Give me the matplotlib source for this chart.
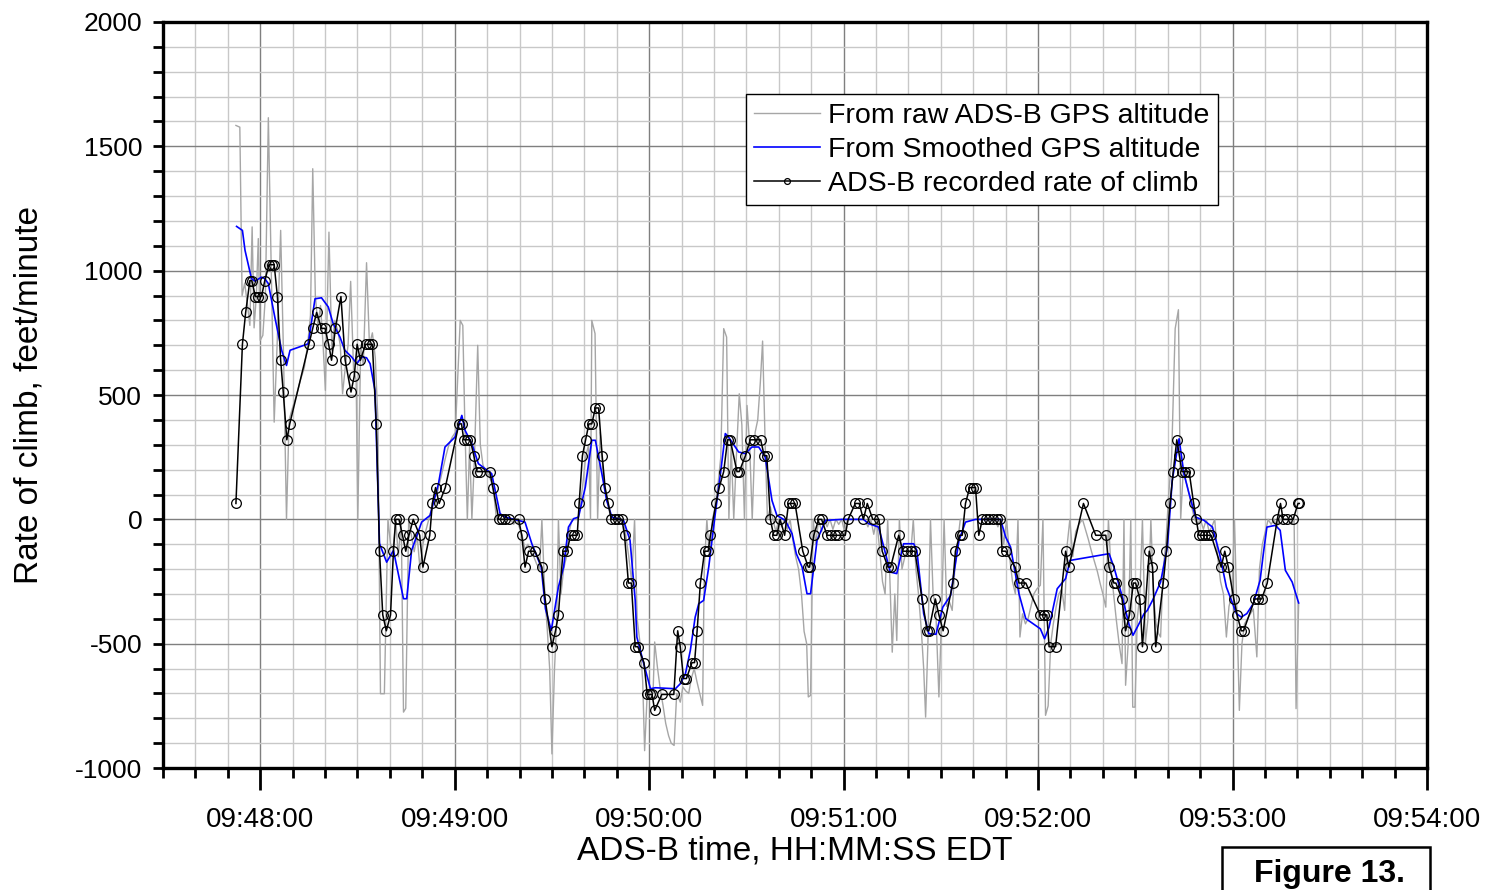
import matplotlib
matplotlib.use("Agg")
import matplotlib.pyplot as plt
from matplotlib.ticker import MultipleLocator, FuncFormatter
from matplotlib.patches import Rectangle

plt.rcParams["axes.unicode_minus"] = False

# time axis: seconds relative to 09:48:00 EDT
base_time = 9 * 3600 + 48 * 60

# ADS-B recorded rate of climb (feet/minute), quantised to 64 fpm
roc_t = [-7.5, -5.5, -4.5, -3.2, -2.6, -1.5, -0.6, 0.4, 1.4, 2.7, 3.5, 4.3, 5.3, 6.3, 7.1, 8.2, 9.1,
         15.0, 16.2, 17.4, 18.9, 20.0, 21.1, 22.0, 23.2, 24.9, 26.2, 28.0, 29.0, 29.9, 30.9, 32.5, 33.5, 34.6,
         35.8, 36.8, 37.8, 38.9, 40.2, 41.1, 41.8, 42.8, 43.9, 44.9, 45.9, 47.2, 49.2, 50.2, 52.3, 53.1, 54.1,
         55.2, 57.1, 61.3, 62.1, 62.8, 63.8, 64.8, 65.9, 66.9, 67.8, 70.8, 71.8, 73.6, 74.5, 75.6, 76.7,
         79.7, 80.7, 81.7, 82.8, 84.8, 86.9, 87.9, 90.0, 91.1, 92.0, 93.4, 94.6, 95.8, 96.8, 97.8, 98.4,
         99.4, 100.4, 101.4, 102.3, 103.4, 104.4, 105.5, 106.4, 107.4, 108.3, 109.4, 110.5, 111.6, 112.4,
         113.6, 114.5, 115.7, 116.5, 118.4, 119.4, 120.3, 120.9, 121.7, 123.9, 127.6, 128.8, 129.6, 130.6,
         131.5, 133.2, 134.0, 134.8, 135.8, 137.1, 138.2, 138.9, 140.6, 141.6, 143.0, 144.2, 145.0, 147.1,
         147.8, 149.7, 151.2, 152.5, 154.4, 155.5, 156.3, 157.4, 158.4, 159.4, 160.4, 161.8, 163.0, 164.0,
         165.0, 167.4, 169.1, 169.5, 170.8, 172.3, 173.2, 174.9, 176.0, 177.2, 178.3, 180.5, 181.4, 183.6,
         184.8, 186.1, 187.3, 189.0, 190.9, 191.9, 193.7, 194.5, 197.0, 198.3, 199.6, 200.8, 202.0, 204.2,
         205.8, 206.3, 208.3, 209.4, 210.7, 213.7, 214.5, 215.8, 216.6, 217.6, 218.9, 219.8, 220.7, 221.7,
         222.8, 223.9, 225.0, 226.1, 227.2, 228.4, 228.9, 230.0, 232.9, 234.1, 236.2, 240.7, 241.7, 242.7,
         243.4, 245.4, 248.5, 249.5, 254.0, 257.8, 260.9, 261.9, 263.4, 264.0, 265.9, 267.0, 268.2, 269.4,
         270.1, 271.4, 272.2, 274.3, 275.3, 276.3, 278.6, 279.6, 280.7, 281.7, 282.8, 283.6, 284.4, 285.4,
         286.6, 288.0, 288.8, 289.6, 290.6, 291.6, 292.5, 293.4, 296.5, 297.6, 298.7, 300.4, 301.4, 302.7,
         303.4, 306.9, 308.0, 309.0, 310.7, 313.8, 314.8, 315.6, 316.7, 318.7, 320.2, 320.6]
roc_v = [64, 704, 832, 960, 960, 896, 896, 896, 960, 1024, 1024, 1024, 896, 640, 512, 320, 384,
         704, 768, 832, 768, 768, 704, 640, 768, 896, 640, 512, 576, 704, 640, 704, 704, 704,
         384, -128, -384, -448, -384, -128, 0, 0, -64, -128, -64, 0, -64, -192, -64, 64, 128,
         64, 128, 384, 384, 320, 320, 320, 256, 192, 192, 192, 128, 0, 0, 0, 0,
         0, -64, -192, -128, -128, -192, -320, -512, -448, -384, -128, -128, -64, -64, -64, 64,
         256, 320, 384, 384, 448, 448, 256, 128, 64, 0, 0, 0, 0, -64,
         -256, -256, -512, -512, -576, -704, -704, -704, -768, -704, -704, -448, -512, -640,
         -640, -576, -576, -448, -256, -128, -128, -64, 64, 128, 192, 320, 320, 192,
         192, 256, 320, 320, 320, 256, 256, 0, -64, -64, 0, -64, 64, 64,
         64, -128, -192, -192, -64, 0, 0, -64, -64, -64, -64, -64, 0, 64,
         64, 0, 64, 0, 0, -128, -192, -192, -64, -128, -128, -128, -128, -320,
         -448, -448, -320, -384, -448, -256, -128, -64, -64, 64, 128, 128, 128, -64,
         0, 0, 0, 0, 0, 0, -128, -128, -192, -256, -256, -384, -384, -384,
         -512, -512, -128, -192, 64, -64, -64, -192, -256, -256, -320, -448, -384, -256,
         -256, -320, -512, -128, -192, -512, -256, -128, 64, 192, 320, 256, 192, 192,
         192, 64, 0, -64, -64, -64, -64, -64, -192, -128, -192, -320, -384, -448,
         -448, -320, -320, -320, -256, 0, 64, 0, 0, 0, 64, 64]

# rate of climb derived from smoothed GPS altitude
smooth_t = [-7.3, -5.5, -4.7, -2.7, -1.6, 0.4, 1.4, 2.5, 4.5, 6.6, 8.1, 9.2, 14.8, 16.9, 18.9, 21.0,
            22.5, 24.6, 26.1, 28.2, 29.8, 31.3, 32.8, 33.9, 35.4, 36.8, 37.6, 39.0, 41.1, 42.6, 44.2,
            45.2, 46.7, 49.8, 52.4, 55.0, 57.0, 60.1, 62.2, 63.2, 65.3, 67.3, 71.4, 74.0, 75.6, 81.7,
            83.8, 86.7, 88.0, 89.8, 92.0, 93.6, 95.1, 96.7, 98.2, 100.3, 102.3, 103.4, 105.4, 106.9,
            108.5, 112.1, 114.1, 115.7, 116.2, 117.8, 120.4, 121.9, 128.1, 129.6, 131.2, 132.7, 134.2,
            135.3, 136.8, 138.4, 140.4, 142.0, 143.5, 144.5, 147.6, 149.7, 151.7, 153.8, 155.8, 157.9,
            159.4, 162.0, 164.1, 165.4, 167.2, 168.7, 169.8, 171.8, 174.4, 179.5, 186.1, 187.7, 190.8,
            194.4, 196.4, 198.5, 201.6, 202.6, 204.7, 206.3, 208.5, 210.6, 213.0, 215.6, 217.6, 220.7,
            228.4, 230.0, 231.5, 234.1, 236.2, 240.7, 242.0, 243.4, 245.9, 248.5, 249.9, 261.9, 263.4,
            266.0, 268.0, 269.3, 270.9, 272.7, 273.7, 275.3, 277.8, 279.9, 281.4, 283.5, 285.0, 286.6,
            288.6, 291.2, 293.8, 296.0, 298.1, 301.2, 302.7, 304.4, 306.4, 308.5, 309.5, 310.6, 313.2,
            314.7, 316.3, 318.4, 320.4]
smooth_v = [1178, 1162, 1082, 968, 958, 974, 968, 948, 813, 680, 619, 680, 706, 887, 891, 854,
            787, 733, 680, 653, 626, 653, 650, 626, 519, -97, -125, -172, -125, -218, -319,
            -319, -125, -11, 16, 144, 291, 331, 418, 358, 304, 224, 184, 23, 9, -11,
            -98, -192, -360, -446, -272, -192, -31, 3, 9, 130, 318, 318, 184, 76,
            9, -4, -84, -326, -473, -554, -681, -677, -681, -661, -620, -527, -393,
            -339, -326, -190, 23, 184, 345, 331, 271, 264, 291, 291, 251, 76,
            16, -4, -58, -138, -192, -299, -299, -84, -4, 0, 0, -17, -31,
            -212, -218, -98, -98, -125, -379, -460, -462, -353, -306, -84, -11, 0,
            0, -71, -111, -299, -399, -440, -480, -433, -279, -238, -165, -138, -192,
            -312, -420, -466, -426, -379, -366, -326, -252, -111, 157, 324, 184, 103,
            9, -4, -31, -138, -272, -379, -393, -379, -339, -245, -138, -31, -24,
            -44, -205, -252, -336]

# rate of climb derived from raw ADS-B GPS altitude
raw_t = [-7.5, -6.3, -5.6, -4.8, -4.0, -3.2, -2.5, -1.9, -1.2, -0.6, 0.0, 0.8, 1.6, 2.5, 3.4, 4.3, 5.2,
         6.3, 7.2, 8.1, 8.9, 10.0, 11.2, 12.4, 13.6, 14.6, 15.5, 16.2, 17.0, 17.8, 18.6, 19.4, 20.1, 21.2,
         22.1, 23.0, 23.9, 24.7, 25.4, 26.3, 27.1, 27.9, 28.8, 29.6, 30.1, 31.0, 31.8, 32.8, 33.7, 34.6,
         35.5, 36.3, 37.1, 38.3, 39.4, 40.2, 41.0, 41.8, 42.6, 43.5, 44.2, 44.9, 45.8, 46.6, 47.5, 48.4,
         49.3, 50.2, 51.0, 52.0, 52.8, 53.6, 54.5, 55.4, 56.3, 57.2, 58.2, 59.2, 60.2, 61.7, 62.5, 63.1,
         63.9, 64.6, 65.3, 66.1, 67.1, 67.9, 68.7, 69.6, 70.5, 71.3, 72.1, 72.9, 73.8, 74.7, 75.5, 76.4,
         77.3, 78.2, 79.1, 79.9, 80.8, 81.7, 82.6, 83.5, 84.4, 85.3, 86.2, 86.9, 87.8, 88.6, 89.3, 90.0,
         90.8, 91.5, 92.0, 92.8, 93.6, 94.5, 95.3, 96.2, 97.0, 97.9, 98.7, 99.6, 100.4, 101.3, 101.9,
         102.3, 103.3, 104.1, 104.9, 105.7, 106.6, 107.4, 108.3, 109.2, 110.1, 111.0, 111.9, 112.8, 113.7,
         114.6, 115.5, 116.3, 117.2, 118.0, 118.6, 119.4, 120.3, 121.2, 121.7, 122.6, 123.4, 124.3, 125.1,
         126.0, 126.8, 127.7, 128.5, 129.6, 130.4, 131.3, 132.2, 133.0, 133.9, 134.7, 135.6, 136.5, 137.0,
         137.8, 138.6, 139.5, 140.4, 141.3, 142.1, 143.0, 143.9, 144.6, 145.3, 146.1, 146.9, 147.8, 148.6,
         149.4, 150.2, 151.0, 151.8, 152.7, 153.5, 154.3, 155.0, 155.8, 156.5, 157.4, 158.2, 159.1, 160.0,
         160.9, 161.7, 162.6, 163.5, 164.3, 165.2, 166.1, 167.0, 167.8, 168.6, 169.1, 169.8, 170.6, 171.4,
         172.3, 173.2, 174.0, 174.9, 175.8, 176.7, 177.6, 178.5, 179.4, 180.3, 181.2, 182.1, 183.0, 183.9,
         184.8, 185.7, 186.6, 187.5, 188.4, 189.3, 190.2, 191.1, 192.0, 192.8, 193.6, 194.3, 195.0, 195.8,
         196.4, 197.2, 198.0, 198.9, 199.8, 200.7, 201.5, 202.3, 203.1, 204.0, 204.7, 205.3, 206.0, 206.8,
         207.6, 208.4, 209.4, 210.2, 211.0, 211.8, 212.6, 213.5, 214.3, 215.1, 216.0, 216.9, 217.7, 218.6,
         219.5, 220.4, 221.3, 222.2, 223.1, 224.0, 224.9, 225.8, 226.7, 227.6, 228.5, 229.4, 230.3, 231.2,
         232.1, 233.0, 233.8, 234.4, 235.2, 236.1, 236.9, 237.8, 238.7, 239.6, 240.7, 241.5, 242.3, 243.1,
         243.9, 244.7, 245.6, 246.4, 247.3, 248.2, 249.0, 249.8, 250.7, 251.6, 252.6, 253.7, 254.6, 255.5,
         256.5, 257.4, 258.3, 259.2, 260.0, 260.9, 261.7, 262.5, 263.3, 264.1, 265.0, 265.9, 266.5, 267.0,
         267.8, 268.6, 269.2, 269.9, 270.6, 271.4, 272.2, 273.1, 273.9, 274.8, 275.6, 276.4, 277.2, 277.8,
         278.6, 279.4, 280.3, 281.2, 282.3, 283.3, 284.0, 284.8, 285.7, 286.6, 287.4, 288.3, 289.2, 290.1,
         291.0, 291.9, 292.8, 293.6, 294.5, 295.4, 296.3, 297.2, 298.1, 298.9, 299.8, 300.6, 301.4, 302.1,
         302.9, 303.7, 304.6, 305.5, 306.4, 307.5, 308.3, 309.2, 310.1, 311.0, 311.9, 312.8, 313.7, 314.6,
         315.5, 316.4, 317.3, 318.2, 319.0, 319.6, 320.4]
raw_v = [1584, 1577, 900, 950, 870, 780, 1176, 770, 900, 1129, 720, 740, 900, 1615, 1000, 391, 700,
         1162, 650, 0, 400, 450, 500, 560, 610, 700, 820, 1410, 900, 780, 860, 700, 519, 1155,
         680, 800, 760, 700, 505, 620, 700, 957, 600, 560, 0, 700, 620, 1032, 700, 750,
         650, 400, -701, -701, 0, -100, -120, 0, -150, 0, -775, -760, 0, -60, -130, -64,
         -200, -100, -50, 0, 40, 100, 100, 150, 200, 250, 300, 330, 350, 800, 780, 400,
         0, 300, 0, 250, 700, 300, 220, 190, 180, 150, 100, 0, 0, 0, 0, 0,
         0, -20, 0, -30, -64, -120, -100, -128, -150, -180, -200, 0, -300, -450, -600, -943,
         -600, -400, 0, -300, -200, -150, -50, 0, 0, 0, 50, 150, 250, 300, 0,
         800, 747, 0, 350, 200, 100, 50, 0, 0, 0, 0, 0, -64, -150,
         -250, 0, -400, -500, -650, -930, -700, -680, -700, -493, -600, -680, -750, -820,
         -870, -900, -909, -700, -735, -674, -690, -700, -640, -600, -650, -700, -748, -200,
         0, -150, 0, 50, 150, 250, 767, 733, 0, 300, 0, 250, 505, 380,
         0, 458, 300, 0, 350, 400, 550, 717, 300, 0, 50, 0, -50, 0,
         -30, 0, -40, 0, -80, -150, -200, -300, -450, -500, -714, -708, 0, -100,
         0, -50, 0, -30, 0, -40, 0, -20, 0, -50, 0, 0, 0, 0,
         0, 0, 0, -30, 0, -60, 0, -120, -250, -300, 0, -250, -534, -300,
         -487, 0, -200, -150, -120, -140, 0, -200, -300, -450, -600, -795, -500, 0,
         -300, -350, -714, -400, 0, -350, -330, -366, -200, -100, 0, 0, 0, 0,
         0, 0, 0, 0, 0, 0, 0, 0, 0, -30, 0, -100, 0, -150,
         -250, -300, 0, -473, -380, -420, -400, -350, -300, -280, -265, 0, -788, -750,
         -500, -420, -350, -300, -280, -366, -100, 0, -150, -50, -20, 0, -40, -80,
         -130, -170, -210, -260, -300, -353, 0, -200, -300, -400, -500, -580, 0, -667,
         -500, 0, -755, -755, -400, -300, 0, -500, -400, 0, -300, -420, -460, -473,
         -200, -100, 100, 250, 767, 843, 0, 200, 150, 100, 50, 0, -20, 0,
         -40, 0, -50, -30, 0, -150, -250, -300, -473, -350, -300, 0, -400, -768,
         -500, -420, -400, -380, -360, -553, -200, -100, -50, 0, -20, 0, -30, 0,
         0, 0, 0, -20, 0, -761, -340]

font = "Liberation Sans"


def hms(x, pos):
    s = int(round(base_time + x))
    return "%02d:%02d:%02d" % (s // 3600, (s % 3600) // 60, s % 60)


fig = plt.figure(figsize=(15.01, 8.90), dpi=100)
ax = fig.add_axes([0.1086, 0.137, 0.8421, 0.8383])

ax.plot(raw_t, raw_v, color="#a6a6a6", lw=1.0, label="From raw ADS-B GPS altitude", zorder=3)
ax.plot(smooth_t, smooth_v, color="#0000ff", lw=1.2, label="From Smoothed GPS altitude", zorder=4)
ax.plot(roc_t, roc_v, color="black", lw=1.1, marker="o", ms=7, mfc="none", mec="black", mew=0.9,
        label="ADS-B recorded rate of climb", zorder=5)

ax.set_xlim(-30, 360)
ax.set_ylim(-1000, 2000)
ax.xaxis.set_major_locator(MultipleLocator(60))
ax.xaxis.set_minor_locator(MultipleLocator(10))
ax.yaxis.set_major_locator(MultipleLocator(500))
ax.yaxis.set_minor_locator(MultipleLocator(100))
ax.xaxis.set_major_formatter(FuncFormatter(hms))

ax.grid(which="minor", color="#c8c8c8", lw=1.0, zorder=1)
ax.grid(which="major", color="#7f7f7f", lw=1.0, zorder=2)

for s in ["top", "right", "bottom", "left"]:
    ax.spines[s].set_linewidth(2.4)
    ax.spines[s].set_color("black")
    ax.spines[s].set_zorder(6)

ax.tick_params(axis="x", which="major", direction="out", length=16, width=2, pad=12,
               labelsize=20)
ax.tick_params(axis="x", which="minor", direction="out", length=7, width=2)
ax.tick_params(axis="y", which="both", direction="out", length=7, width=2, pad=8, labelsize=19)
for lab in ax.get_xticklabels() + ax.get_yticklabels():
    lab.set_fontfamily(font)

ax.set_xlabel("ADS-B time, HH:MM:SS EDT", fontsize=24, fontfamily=font, labelpad=2)
ax.set_ylabel("Rate of climb, feet/minute", fontsize=24, fontfamily=font, labelpad=22)

leg = ax.legend(loc="upper left", bbox_to_anchor=(0.461, 0.903), frameon=True, fancybox=False,
                edgecolor="black", framealpha=1, prop={"family": font, "size": 20.5},
                handlelength=2.3, handletextpad=0.3, borderpad=0.3, labelspacing=0.28,
                borderaxespad=0, markerscale=0.6)
leg.get_frame().set_linewidth(1.0)
leg.set_zorder(10)

fig.patches.append(Rectangle((1222 / 1501, -0.01), 208 / 1501, 0.058, transform=fig.transFigure,
                             fill=False, edgecolor="black", lw=1.8))
fig.text(1330 / 1501, 0.018, "Figure 13.", fontsize=23, fontweight="bold", fontfamily=font,
         ha="center", va="center")

fig.savefig("out.png", dpi=100)
